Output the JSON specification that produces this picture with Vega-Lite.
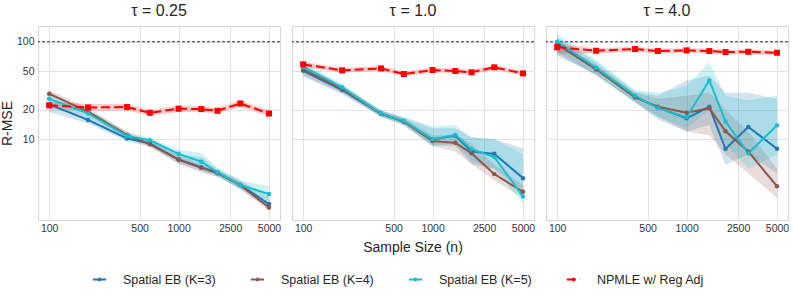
{
  "$schema": "https://vega.github.io/schema/vega-lite/v6.json",
  "padding": {"left": 0, "right": 2, "top": 3, "bottom": 3},
  "background": "white",
  "data": {"values": [
    {"tau":"0.25","s":"Spatial EB (K=3)","n":100,"y":22.8,"lo":19,"hi":26.5},
    {"tau":"0.25","s":"Spatial EB (K=3)","n":200,"y":15.8,"lo":14.5,"hi":17.3},
    {"tau":"0.25","s":"Spatial EB (K=3)","n":400,"y":10.2,"lo":9.5,"hi":11.1},
    {"tau":"0.25","s":"Spatial EB (K=3)","n":600,"y":9.1,"lo":8.5,"hi":9.8},
    {"tau":"0.25","s":"Spatial EB (K=3)","n":1000,"y":6.2,"lo":5.6,"hi":7.0},
    {"tau":"0.25","s":"Spatial EB (K=3)","n":1500,"y":5.17,"lo":4.6,"hi":6.6},
    {"tau":"0.25","s":"Spatial EB (K=3)","n":2000,"y":4.55,"lo":4.1,"hi":5.0},
    {"tau":"0.25","s":"Spatial EB (K=3)","n":3000,"y":3.4,"lo":3.1,"hi":3.8},
    {"tau":"0.25","s":"Spatial EB (K=3)","n":5000,"y":2.17,"lo":1.95,"hi":2.6},
    {"tau":"0.25","s":"Spatial EB (K=4)","n":100,"y":29.3,"lo":26,"hi":32},
    {"tau":"0.25","s":"Spatial EB (K=4)","n":200,"y":19.2,"lo":17.5,"hi":21},
    {"tau":"0.25","s":"Spatial EB (K=4)","n":400,"y":11.1,"lo":10.3,"hi":12},
    {"tau":"0.25","s":"Spatial EB (K=4)","n":600,"y":8.9,"lo":8.3,"hi":9.6},
    {"tau":"0.25","s":"Spatial EB (K=4)","n":1000,"y":6.2,"lo":5.7,"hi":6.8},
    {"tau":"0.25","s":"Spatial EB (K=4)","n":1500,"y":5.1,"lo":4.7,"hi":5.5},
    {"tau":"0.25","s":"Spatial EB (K=4)","n":2000,"y":4.5,"lo":4.2,"hi":4.8},
    {"tau":"0.25","s":"Spatial EB (K=4)","n":3000,"y":3.4,"lo":3.1,"hi":3.7},
    {"tau":"0.25","s":"Spatial EB (K=4)","n":5000,"y":2.0,"lo":1.85,"hi":2.2},
    {"tau":"0.25","s":"Spatial EB (K=5)","n":100,"y":26.0,"lo":23,"hi":29},
    {"tau":"0.25","s":"Spatial EB (K=5)","n":200,"y":18.4,"lo":16.5,"hi":20.5},
    {"tau":"0.25","s":"Spatial EB (K=5)","n":400,"y":10.8,"lo":10,"hi":11.8},
    {"tau":"0.25","s":"Spatial EB (K=5)","n":600,"y":9.8,"lo":9.1,"hi":10.5},
    {"tau":"0.25","s":"Spatial EB (K=5)","n":1000,"y":7.1,"lo":6.4,"hi":7.8},
    {"tau":"0.25","s":"Spatial EB (K=5)","n":1500,"y":5.9,"lo":5.2,"hi":7.3},
    {"tau":"0.25","s":"Spatial EB (K=5)","n":2000,"y":4.6,"lo":4.2,"hi":5.1},
    {"tau":"0.25","s":"Spatial EB (K=5)","n":3000,"y":3.4,"lo":3.1,"hi":3.8},
    {"tau":"0.25","s":"Spatial EB (K=5)","n":5000,"y":2.75,"lo":2.3,"hi":3.3},
    {"tau":"0.25","s":"NPMLE w/ Reg Adj","n":100,"y":22.3,"lo":20.5,"hi":24.3},
    {"tau":"0.25","s":"NPMLE w/ Reg Adj","n":200,"y":21.2,"lo":19.6,"hi":23},
    {"tau":"0.25","s":"NPMLE w/ Reg Adj","n":400,"y":21.4,"lo":19.8,"hi":23.1},
    {"tau":"0.25","s":"NPMLE w/ Reg Adj","n":600,"y":18.7,"lo":17.4,"hi":20.1},
    {"tau":"0.25","s":"NPMLE w/ Reg Adj","n":1000,"y":20.6,"lo":19.1,"hi":22.2},
    {"tau":"0.25","s":"NPMLE w/ Reg Adj","n":1500,"y":20.4,"lo":19,"hi":22},
    {"tau":"0.25","s":"NPMLE w/ Reg Adj","n":2000,"y":19.6,"lo":18.3,"hi":21},
    {"tau":"0.25","s":"NPMLE w/ Reg Adj","n":3000,"y":23.3,"lo":21.6,"hi":25.2},
    {"tau":"0.25","s":"NPMLE w/ Reg Adj","n":5000,"y":18.4,"lo":17,"hi":19.9},
    {"tau":"1.0","s":"Spatial EB (K=3)","n":100,"y":50.4,"lo":44,"hi":57},
    {"tau":"1.0","s":"Spatial EB (K=3)","n":200,"y":32.0,"lo":29,"hi":35},
    {"tau":"1.0","s":"Spatial EB (K=3)","n":400,"y":18.3,"lo":17,"hi":19.6},
    {"tau":"1.0","s":"Spatial EB (K=3)","n":600,"y":15.2,"lo":14,"hi":16.5},
    {"tau":"1.0","s":"Spatial EB (K=3)","n":1000,"y":10.0,"lo":8.6,"hi":13},
    {"tau":"1.0","s":"Spatial EB (K=3)","n":1500,"y":10.9,"lo":8.6,"hi":13},
    {"tau":"1.0","s":"Spatial EB (K=3)","n":2000,"y":7.5,"lo":5.6,"hi":10.5},
    {"tau":"1.0","s":"Spatial EB (K=3)","n":3000,"y":7.1,"lo":5.0,"hi":10},
    {"tau":"1.0","s":"Spatial EB (K=3)","n":5000,"y":4.0,"lo":3.0,"hi":8.1},
    {"tau":"1.0","s":"Spatial EB (K=4)","n":100,"y":52.1,"lo":45,"hi":58},
    {"tau":"1.0","s":"Spatial EB (K=4)","n":200,"y":32.8,"lo":30,"hi":36},
    {"tau":"1.0","s":"Spatial EB (K=4)","n":400,"y":18.3,"lo":17,"hi":19.6},
    {"tau":"1.0","s":"Spatial EB (K=4)","n":600,"y":15.2,"lo":14,"hi":16.5},
    {"tau":"1.0","s":"Spatial EB (K=4)","n":1000,"y":9.6,"lo":8.5,"hi":11},
    {"tau":"1.0","s":"Spatial EB (K=4)","n":1500,"y":9.2,"lo":7.5,"hi":11},
    {"tau":"1.0","s":"Spatial EB (K=4)","n":2000,"y":7.2,"lo":5.6,"hi":9},
    {"tau":"1.0","s":"Spatial EB (K=4)","n":3000,"y":4.4,"lo":3.8,"hi":5.5},
    {"tau":"1.0","s":"Spatial EB (K=4)","n":5000,"y":2.9,"lo":2.5,"hi":3.4},
    {"tau":"1.0","s":"Spatial EB (K=5)","n":100,"y":55.4,"lo":48,"hi":62},
    {"tau":"1.0","s":"Spatial EB (K=5)","n":200,"y":34.1,"lo":31,"hi":37},
    {"tau":"1.0","s":"Spatial EB (K=5)","n":400,"y":18.3,"lo":17,"hi":20},
    {"tau":"1.0","s":"Spatial EB (K=5)","n":600,"y":15.4,"lo":14,"hi":17},
    {"tau":"1.0","s":"Spatial EB (K=5)","n":1000,"y":10.0,"lo":8.6,"hi":13.5},
    {"tau":"1.0","s":"Spatial EB (K=5)","n":1500,"y":11.1,"lo":9,"hi":14},
    {"tau":"1.0","s":"Spatial EB (K=5)","n":2000,"y":7.9,"lo":6,"hi":10.5},
    {"tau":"1.0","s":"Spatial EB (K=5)","n":3000,"y":6.6,"lo":5,"hi":10},
    {"tau":"1.0","s":"Spatial EB (K=5)","n":5000,"y":2.6,"lo":2.2,"hi":7},
    {"tau":"1.0","s":"NPMLE w/ Reg Adj","n":100,"y":58.6,"lo":55,"hi":62.5},
    {"tau":"1.0","s":"NPMLE w/ Reg Adj","n":200,"y":50.9,"lo":48,"hi":54},
    {"tau":"1.0","s":"NPMLE w/ Reg Adj","n":400,"y":53.3,"lo":50,"hi":56.5},
    {"tau":"1.0","s":"NPMLE w/ Reg Adj","n":600,"y":46.7,"lo":44,"hi":49.5},
    {"tau":"1.0","s":"NPMLE w/ Reg Adj","n":1000,"y":51.3,"lo":48.4,"hi":54.4},
    {"tau":"1.0","s":"NPMLE w/ Reg Adj","n":1500,"y":50.1,"lo":47.2,"hi":53.1},
    {"tau":"1.0","s":"NPMLE w/ Reg Adj","n":2000,"y":48.6,"lo":45.8,"hi":51.5},
    {"tau":"1.0","s":"NPMLE w/ Reg Adj","n":3000,"y":54.7,"lo":51.6,"hi":58},
    {"tau":"1.0","s":"NPMLE w/ Reg Adj","n":5000,"y":47.4,"lo":44.7,"hi":50.2},
    {"tau":"4.0","s":"Spatial EB (K=3)","n":100,"y":97.7,"lo":72,"hi":112},
    {"tau":"4.0","s":"Spatial EB (K=3)","n":200,"y":53.3,"lo":46,"hi":62},
    {"tau":"4.0","s":"Spatial EB (K=3)","n":400,"y":27.3,"lo":24,"hi":31},
    {"tau":"4.0","s":"Spatial EB (K=3)","n":600,"y":21.2,"lo":16,"hi":28},
    {"tau":"4.0","s":"Spatial EB (K=3)","n":1000,"y":16.4,"lo":12,"hi":40},
    {"tau":"4.0","s":"Spatial EB (K=3)","n":1500,"y":21.6,"lo":14,"hi":45},
    {"tau":"4.0","s":"Spatial EB (K=3)","n":2000,"y":7.98,"lo":5.5,"hi":30},
    {"tau":"4.0","s":"Spatial EB (K=3)","n":3000,"y":13.4,"lo":7,"hi":30},
    {"tau":"4.0","s":"Spatial EB (K=3)","n":5000,"y":8.0,"lo":4.5,"hi":26},
    {"tau":"4.0","s":"Spatial EB (K=4)","n":100,"y":94.0,"lo":75,"hi":105},
    {"tau":"4.0","s":"Spatial EB (K=4)","n":200,"y":52.1,"lo":46,"hi":58},
    {"tau":"4.0","s":"Spatial EB (K=4)","n":400,"y":26.9,"lo":24,"hi":30},
    {"tau":"4.0","s":"Spatial EB (K=4)","n":600,"y":21.6,"lo":17,"hi":26},
    {"tau":"4.0","s":"Spatial EB (K=4)","n":1000,"y":18.7,"lo":12,"hi":28},
    {"tau":"4.0","s":"Spatial EB (K=4)","n":1500,"y":20.8,"lo":11,"hi":30},
    {"tau":"4.0","s":"Spatial EB (K=4)","n":2000,"y":12.1,"lo":7,"hi":20},
    {"tau":"4.0","s":"Spatial EB (K=4)","n":3000,"y":7.5,"lo":4.5,"hi":12},
    {"tau":"4.0","s":"Spatial EB (K=4)","n":5000,"y":3.3,"lo":2.5,"hi":5},
    {"tau":"4.0","s":"Spatial EB (K=5)","n":100,"y":100,"lo":80,"hi":120},
    {"tau":"4.0","s":"Spatial EB (K=5)","n":200,"y":54.1,"lo":45,"hi":65},
    {"tau":"4.0","s":"Spatial EB (K=5)","n":400,"y":28.0,"lo":24,"hi":32},
    {"tau":"4.0","s":"Spatial EB (K=5)","n":600,"y":20.9,"lo":17,"hi":30},
    {"tau":"4.0","s":"Spatial EB (K=5)","n":1000,"y":16.8,"lo":13,"hi":35},
    {"tau":"4.0","s":"Spatial EB (K=5)","n":1500,"y":40.2,"lo":20,"hi":62},
    {"tau":"4.0","s":"Spatial EB (K=5)","n":2000,"y":15.2,"lo":9,"hi":28},
    {"tau":"4.0","s":"Spatial EB (K=5)","n":3000,"y":7.2,"lo":5,"hi":25},
    {"tau":"4.0","s":"Spatial EB (K=5)","n":5000,"y":13.9,"lo":7,"hi":28},
    {"tau":"4.0","s":"NPMLE w/ Reg Adj","n":100,"y":87.7,"lo":76,"hi":96},
    {"tau":"4.0","s":"NPMLE w/ Reg Adj","n":200,"y":80.9,"lo":76,"hi":86},
    {"tau":"4.0","s":"NPMLE w/ Reg Adj","n":400,"y":84.2,"lo":79,"hi":89},
    {"tau":"4.0","s":"NPMLE w/ Reg Adj","n":600,"y":80.3,"lo":75.5,"hi":85},
    {"tau":"4.0","s":"NPMLE w/ Reg Adj","n":1000,"y":81.6,"lo":77,"hi":86.5},
    {"tau":"4.0","s":"NPMLE w/ Reg Adj","n":1500,"y":80.3,"lo":75.5,"hi":85},
    {"tau":"4.0","s":"NPMLE w/ Reg Adj","n":2000,"y":78.4,"lo":74,"hi":83},
    {"tau":"4.0","s":"NPMLE w/ Reg Adj","n":3000,"y":79.0,"lo":74.5,"hi":83.5},
    {"tau":"4.0","s":"NPMLE w/ Reg Adj","n":5000,"y":77.1,"lo":72.5,"hi":81.5}
  ]},
  "facet": {
    "column": {
      "field": "tau", "type": "nominal", "title": "Sample Size (n)",
      "header": {
        "labelOrient": "top", "titleOrient": "bottom",
        "labelExpr": "'τ = ' + datum.value",
        "labelFont": "Liberation Sans", "labelFontSize": 16, "labelColor": "#262626", "labelPadding": 6,
        "titleFont": "Liberation Sans", "titleFontSize": 14, "titleFontWeight": "normal", "titleColor": "#262626", "titlePadding": -3
      }
    }
  },
  "spacing": 10,
  "spec": {
    "width": 242,
    "height": 194,
    "layer": [
      {
        "transform": [{"filter": "datum.s === 'NPMLE w/ Reg Adj' && datum.n === 100"}],
        "mark": {"type": "rule", "color": "#333333", "strokeWidth": 1, "strokeDash": [3, 2]},
        "encoding": {"y": {"datum": 100, "type": "quantitative", "scale": {"type": "log", "domain": [1.49, 145], "nice": false}}}
      },
      {
        "mark": {"type": "area", "opacity": 0.2},
        "encoding": {
          "x": {"field": "n", "type": "quantitative",
            "scale": {"type": "log", "domain": [82, 6080], "nice": false},
            "axis": {"values": [100, 500, 1000, 2500, 5000], "format": "d", "title": null, "labelPadding": 2}},
          "y": {"field": "lo", "type": "quantitative",
            "scale": {"type": "log", "domain": [1.49, 145], "nice": false},
            "axis": {"values": [10, 20, 50, 100], "format": "d", "title": "R-MSE", "labelPadding": 3, "titlePadding": 2}},
          "y2": {"field": "hi"},
          "color": {"field": "s", "type": "nominal",
            "scale": {"domain": ["Spatial EB (K=3)", "Spatial EB (K=4)", "Spatial EB (K=5)", "NPMLE w/ Reg Adj"], "range": ["#1f77b4", "#8c564b", "#17becf", "#ff0000"]},
            "legend": {"orient": "bottom", "direction": "horizontal", "title": null, "columns": 4,
              "symbolType": "M-0.5,0H0.5M-0.07,0A0.07,0.07 0 1,1 0.07,0A0.07,0.07 0 1,1 -0.07,0Z",
              "symbolSize": 700, "symbolStrokeWidth": 2.5, "symbolOpacity": 1,
              "labelFont": "Liberation Sans", "labelFontSize": 12.5, "labelColor": "#262626",
              "labelOffset": 9, "columnPadding": 27, "offset": 10}}
        }
      },
      {
        "mark": {"type": "line"},
        "encoding": {
          "x": {"field": "n", "type": "quantitative"},
          "y": {"field": "y", "type": "quantitative"},
          "color": {"field": "s", "type": "nominal"},
          "strokeDash": {"field": "s", "type": "nominal",
            "scale": {"domain": ["Spatial EB (K=3)", "Spatial EB (K=4)", "Spatial EB (K=5)", "NPMLE w/ Reg Adj"], "range": [[1, 0], [1, 0], [1, 0], [9, 4]]}},
          "strokeWidth": {"field": "s", "type": "nominal", "legend": null,
            "scale": {"domain": ["Spatial EB (K=3)", "Spatial EB (K=4)", "Spatial EB (K=5)", "NPMLE w/ Reg Adj"], "range": [2, 2, 2, 2.5]}}
        }
      },
      {
        "transform": [{"filter": "datum.s !== 'NPMLE w/ Reg Adj'"}],
        "mark": {"type": "circle", "size": 20, "opacity": 1},
        "encoding": {
          "x": {"field": "n", "type": "quantitative"},
          "y": {"field": "y", "type": "quantitative"},
          "color": {"field": "s", "type": "nominal"}
        }
      },
      {
        "transform": [{"filter": "datum.s === 'NPMLE w/ Reg Adj'"}],
        "mark": {"type": "square", "size": 36, "opacity": 1},
        "encoding": {
          "x": {"field": "n", "type": "quantitative"},
          "y": {"field": "y", "type": "quantitative"},
          "color": {"field": "s", "type": "nominal"}
        }
      }
    ]
  },
  "config": {
    "view": {"stroke": "#d4d4d4", "strokeWidth": 1},
    "legend": {"layout": {"bottom": {"anchor": "middle"}}},
    "axis": {
      "domain": false, "ticks": false, "grid": true, "gridColor": "#e2e2e2", "gridWidth": 1,
      "labelFont": "Liberation Sans", "labelFontSize": 10.5, "labelColor": "#333333",
      "titleFont": "Liberation Sans", "titleFontSize": 14, "titleFontWeight": "normal", "titleColor": "#262626"
    }
  }
}
